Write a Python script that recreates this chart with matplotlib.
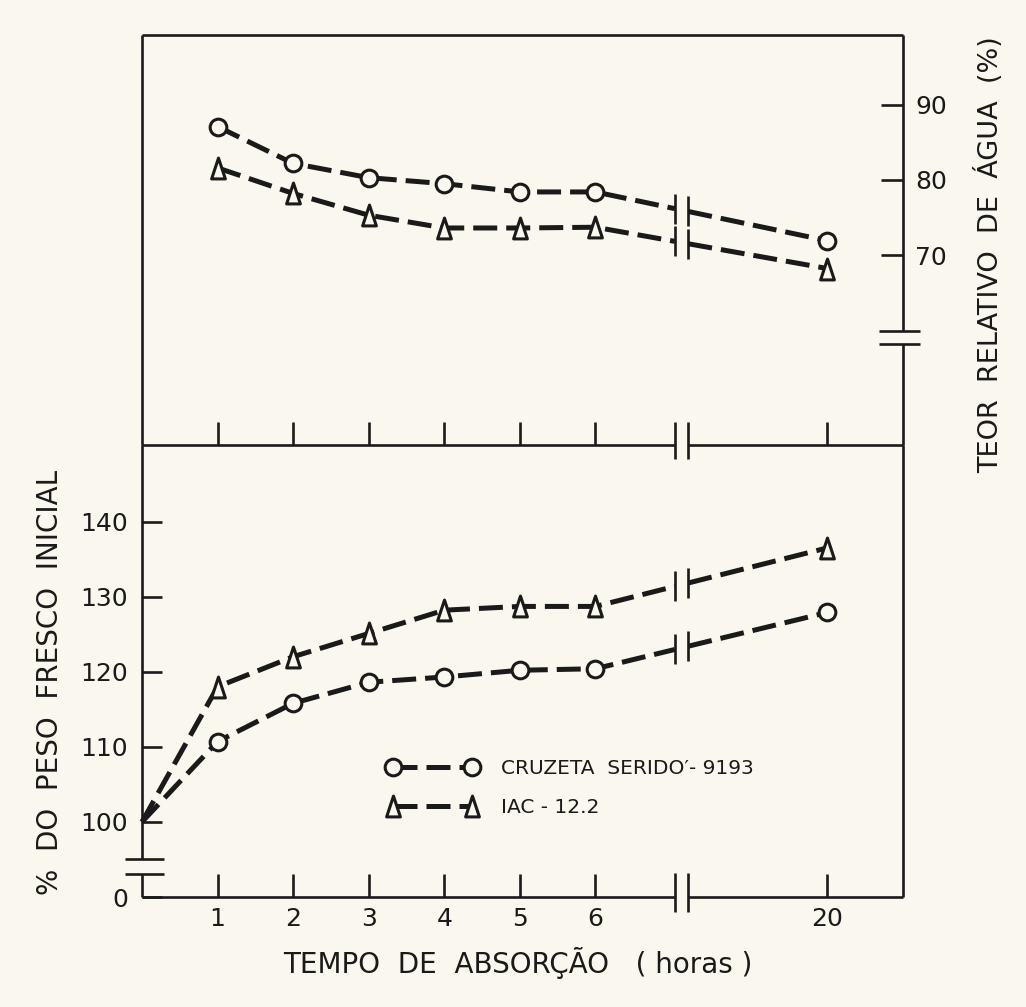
import numpy as np
import matplotlib
matplotlib.use("Agg")
import matplotlib.pyplot as plt
from matplotlib.path import Path
from matplotlib.lines import Line2D

# ---------------- data ----------------
hours = [1, 2, 3, 4, 5, 6, 20]
xtick_labels = ["1", "2", "3", "4", "5", "6", "20"]

water_cruzeta = [87.1, 82.2, 80.3, 79.5, 78.4, 78.4, 71.9]
water_iac = [81.6, 78.2, 75.3, 73.6, 73.6, 73.7, 68.2]

weight_hours = [0, 1, 2, 3, 4, 5, 6, 20]
weight_cruzeta = [100, 110.7, 115.8, 118.6, 119.3, 120.2, 120.4, 127.9]
weight_iac = [100, 118.0, 122.0, 125.1, 128.2, 128.7, 128.7, 136.5]

water_ticks = [70, 80, 90]
weight_ticks = [0, 100, 110, 120, 130, 140]

series_labels = ["CRUZETA  SERIDO\u2032- 9193", "IAC - 12.2"]

# ---------------- styling / layout ----------------
BG = "#faf7ee"
INK = "#1a1a1a"
plt.rcParams["font.family"] = ["DejaVu Sans"]

W, H = 1026, 1007
fig = plt.figure(figsize=(W / 100, H / 100), dpi=100, facecolor=BG)

L, R = 142, 903
Y_TOP, Y_MID, Y_BOT = 35, 445, 897
ax_top = fig.add_axes([L / W, 1 - Y_MID / H, (R - L) / W, (Y_MID - Y_TOP) / H])
ax_bot = fig.add_axes([L / W, 1 - Y_BOT / H, (R - L) / W, (Y_BOT - Y_MID) / H])
for ax in (ax_top, ax_bot):
    ax.set_facecolor("none")
    for s in ax.spines.values():
        s.set_visible(False)

# broken x axis: 20 h drawn after a break following 6 h
BRK_X = (7.05, 7.23)
def xpos(h):
    h = np.asarray(h, float)
    return np.where(h <= 6, h, 6 + (h - 6) * 3.07 / 14)

XLIM = (0, 10.07)
TOP_YLIM = (44.7, 99.3)
BOT_YLIM = (90.0, 150.2)
TOP_BRK_Y = (58.1, 59.9)
BOT_BRK_Y = (93.1, 95.0)
AXIS_ZERO_POS = 90.0  # where the broken-axis "0" sits

LW = 3.6
DASH = (0, (4.8, 1.8))
SPW = 1.9

tri = Path([(-0.33, -0.5), (0.33, -0.5), (0.0, 0.5), (-0.33, -0.5)],
           [Path.MOVETO, Path.LINETO, Path.LINETO, Path.CLOSEPOLY])
mk_circle = dict(marker="o", markersize=12, markeredgewidth=2.2,
                 markerfacecolor=BG, markeredgecolor=INK)
mk_tri = dict(marker=tri, markersize=15, markeredgewidth=2.2,
              markerfacecolor=BG, markeredgecolor=INK)


def draw_series(ax, hrs, vals, mk, start_marker=0):
    xp = xpos(hrs)
    vals = np.asarray(vals, float)
    yb = np.interp(BRK_X, xp, vals)
    pre = xp <= 6
    xs = np.concatenate([xp[pre], [BRK_X[0], np.nan, BRK_X[1]], xp[~pre]])
    ys = np.concatenate([vals[pre], [yb[0], np.nan, yb[1]], vals[~pre]])
    ax.plot(xs, ys, color=INK, lw=LW, linestyle=DASH, solid_capstyle="butt",
            dash_capstyle="butt", zorder=3, clip_on=False)
    ax.plot(BRK_X, yb, linestyle="none", marker="|", markersize=21,
            markeredgewidth=SPW, color=INK, zorder=4, clip_on=False)
    ax.plot(xp[start_marker:], vals[start_marker:], linestyle="none",
            zorder=5, clip_on=False, **mk)


# ---------------- top panel ----------------
ax_top.set_xlim(*XLIM)
ax_top.set_ylim(*TOP_YLIM)
draw_series(ax_top, hours, water_cruzeta, mk_circle)
draw_series(ax_top, hours, water_iac, mk_tri)

ax_top.set_xticks(xpos(hours))
ax_top.tick_params(axis="x", direction="in", length=16.5, width=SPW,
                   labelbottom=False, color=INK)
ax_top.yaxis.tick_right()
ax_top.set_yticks(water_ticks)
ax_top.set_yticklabels([str(t) for t in water_ticks])
ax_top.tick_params(axis="y", direction="in", length=16, width=SPW, pad=9,
                   labelsize=18, color=INK, labelcolor=INK)

# ---------------- bottom panel ----------------
ax_bot.set_xlim(*XLIM)
ax_bot.set_ylim(*BOT_YLIM)
draw_series(ax_bot, weight_hours, weight_cruzeta, mk_circle, start_marker=1)
draw_series(ax_bot, weight_hours, weight_iac, mk_tri, start_marker=1)

ax_bot.set_xticks(xpos(hours))
ax_bot.set_xticklabels(xtick_labels)
ax_bot.tick_params(axis="x", direction="in", length=16.5, width=SPW, pad=7,
                   labelsize=18, color=INK, labelcolor=INK)
ax_bot.set_yticks([AXIS_ZERO_POS if t == 0 else t for t in weight_ticks])
ax_bot.set_yticklabels([str(t) for t in weight_ticks])
ax_bot.tick_params(axis="y", direction="in", length=14.5, width=SPW, pad=10,
                   labelsize=18, color=INK, labelcolor=INK)

# ---------------- frame with axis breaks ----------------
line_kw = dict(color=INK, lw=SPW, clip_on=False, solid_capstyle="butt", zorder=6)

# top panel: top + left full, right broken, bottom (divider) broken
ax_top.plot([0, 1], [1, 1], transform=ax_top.transAxes, **line_kw)
ax_top.plot([0, 0], [0, 1], transform=ax_top.transAxes, **line_kw)
ty = ax_top.get_yaxis_transform()
ax_top.plot([1, 1], [TOP_YLIM[0], TOP_BRK_Y[0]], transform=ty, **line_kw)
ax_top.plot([1, 1], [TOP_BRK_Y[1], TOP_YLIM[1]], transform=ty, **line_kw)
axw = R - L
for yb in TOP_BRK_Y:
    ax_top.plot([1 - 24 / axw, 1 + 17 / axw], [yb, yb], transform=ty, **line_kw)
tx = ax_top.get_xaxis_transform()
axh_top = Y_MID - Y_TOP
ax_top.plot([XLIM[0], BRK_X[0]], [0, 0], transform=tx, **line_kw)
ax_top.plot([BRK_X[1], XLIM[1]], [0, 0], transform=tx, **line_kw)
for xb in BRK_X:
    ax_top.plot([xb, xb], [-14 / axh_top, 23 / axh_top], transform=tx, **line_kw)

# bottom panel: right full, left broken, bottom broken
ax_bot.plot([1, 1], [0, 1], transform=ax_bot.transAxes, **line_kw)
by = ax_bot.get_yaxis_transform()
ax_bot.plot([0, 0], [BOT_YLIM[0], BOT_BRK_Y[0]], transform=by, **line_kw)
ax_bot.plot([0, 0], [BOT_BRK_Y[1], BOT_YLIM[1]], transform=by, **line_kw)
for yb in BOT_BRK_Y:
    ax_bot.plot([-17 / axw, 22 / axw], [yb, yb], transform=by, **line_kw)
bx = ax_bot.get_xaxis_transform()
axh_bot = Y_BOT - Y_MID
ax_bot.plot([XLIM[0], BRK_X[0]], [0, 0], transform=bx, **line_kw)
ax_bot.plot([BRK_X[1], XLIM[1]], [0, 0], transform=bx, **line_kw)
for xb in BRK_X:
    ax_bot.plot([xb, xb], [-15 / axh_bot, 24 / axh_bot], transform=bx, **line_kw)

# ---------------- legend ----------------
handles = [
    Line2D([], [], color=INK, lw=LW, linestyle=DASH, **mk_circle),
    Line2D([], [], color=INK, lw=LW, linestyle=DASH, **mk_tri),
]
ax_bot.legend(handles, series_labels, loc="upper left",
              bbox_to_anchor=(387 / W, 1 - 759 / H), bbox_transform=fig.transFigure,
              frameon=False, numpoints=2, handlelength=4.5, handletextpad=1.15,
              fontsize=14.5, labelspacing=1.0, borderpad=0, borderaxespad=0,
              labelcolor=INK)

# ---------------- axis titles ----------------
fig.text(990 / W, 1 - 255 / H, "TEOR  RELATIVO  DE  ÁGUA  (%)", rotation=90,
         ha="center", va="center", fontsize=19.5, color=INK)
fig.text(50 / W, 1 - 682 / H, "%  DO  PESO  FRESCO  INICIAL", rotation=90,
         ha="center", va="center", fontsize=20, color=INK)
fig.text(518 / W, 1 - 963 / H, "TEMPO  DE  ABSORÇÃO   ( horas )",
         ha="center", va="center", fontsize=20, color=INK)

fig.savefig("out.png", dpi=100, facecolor=BG)
